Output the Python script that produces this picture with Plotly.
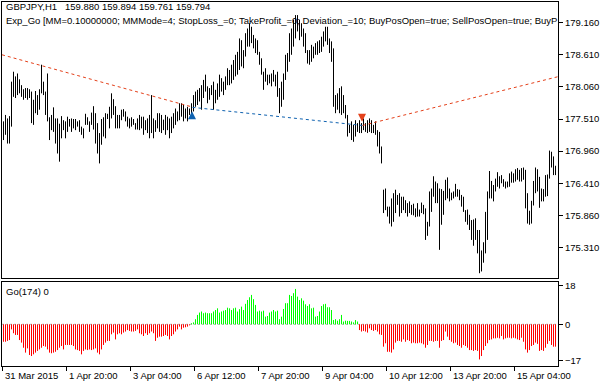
import plotly.graph_objects as go

# ---------------- data ----------------
highs = [
    177.47,177.58,177.52,177.56,178.15,178.32,178.24,178.29,178.19,178.09,
    178.02,178.04,178.04,178.02,177.98,177.84,177.99,177.92,178.02,178.44,
    178.15,177.98,178.29,177.54,177.58,177.71,177.52,177.52,177.43,177.56,
    177.49,177.47,177.55,177.51,177.52,177.51,177.51,177.47,177.49,177.38,
    177.35,177.60,177.54,177.47,177.62,177.73,177.61,177.44,177.27,177.51,
    177.54,177.61,177.60,177.72,177.95,177.85,177.73,177.58,177.58,177.67,
    177.68,177.64,177.55,177.52,177.54,177.51,177.44,177.52,
    177.58,177.55,177.55,177.49,177.52,177.58,177.92,177.52,177.49,177.61,
    177.61,177.58,177.50,177.58,177.55,177.52,177.55,177.61,177.69,177.64,
    177.78,177.78,177.75,177.69,177.72,177.69,177.78,177.92,177.98,178.01,
    178.04,178.09,178.18,178.27,178.07,178.04,178.09,178.15,178.01,178.12,
    178.27,178.21,178.15,178.24,178.38,178.35,178.44,178.52,178.61,178.66,
    178.89,178.86,178.69,178.98,179.06,179.15,179.09,178.95,178.89,178.86,
    178.66,178.55,178.32,178.38,178.27,178.27,178.29,178.35,178.27,
    178.32,178.04,178.15,178.29,178.61,178.64,178.98,179.06,179.21,179.29,
    179.29,179.21,179.15,179.06,178.98,178.69,178.69,178.78,178.75,178.81,
    178.84,178.86,178.92,179.01,179.09,179.09,178.89,178.84,178.72,177.92,
    177.95,178.04,178.07,177.92,177.75,177.58,177.41,177.47,177.41,177.49,
    177.44,177.49,177.44,177.52,177.44,177.49,177.52,177.49,177.41,177.47,
    177.32,177.29,177.04,176.30,176.32,176.01,176.01,176.15,176.24,176.30,
    176.21,176.24,176.18,176.18,176.12,176.07,176.10,176.04,176.06,
    175.98,176.07,175.96,176.08,176.04,175.98,175.75,176.27,176.32,176.53,
    176.44,176.41,176.32,176.31,176.28,176.47,176.51,176.32,176.25,176.27,
    176.40,176.31,176.30,176.21,176.18,175.95,175.96,175.87,175.78,175.79,
    175.81,175.61,175.61,175.26,175.40,175.92,176.27,176.62,176.45,176.38,
    176.49,176.60,176.53,176.55,176.48,176.44,176.44,176.58,176.61,176.58,
    176.65,176.67,176.64,176.67,176.68,176.64,176.24,175.94,176.11,176.45,
    176.68,176.65,176.52,176.32,176.31,176.55,176.56,176.97,176.95,176.87,176.71,
]
lows = [
    177.15,177.24,177.09,177.09,177.38,177.89,177.87,177.92,177.95,177.89,
    177.84,177.87,177.84,177.87,177.44,177.41,177.61,177.58,177.67,177.95,
    177.92,177.58,177.47,177.15,177.32,177.29,177.09,176.92,176.78,177.18,
    177.32,177.18,177.29,177.38,177.29,177.35,177.32,177.38,177.29,177.24,
    177.18,177.41,177.41,177.29,177.41,177.33,177.09,176.92,176.75,177.07,
    177.21,177.18,177.51,177.35,177.52,177.58,177.35,177.35,177.35,177.49,
    177.55,177.47,177.38,177.35,177.38,177.41,177.33,177.33,
    177.32,177.35,177.24,177.32,177.27,177.18,177.27,177.18,177.29,177.35,
    177.29,177.27,177.32,177.24,177.32,177.18,177.27,177.35,177.41,177.47,
    177.49,177.55,177.47,177.52,177.47,177.58,177.61,177.64,177.72,177.75,
    177.81,177.67,177.87,177.98,177.78,177.84,177.92,177.67,177.78,177.84,
    177.89,177.98,177.92,178.01,178.09,178.09,178.12,178.18,178.24,178.27,
    178.35,178.41,178.38,178.58,178.75,178.75,178.81,178.72,178.64,178.61,
    178.44,178.27,178.01,178.15,178.09,178.12,178.07,178.15,178.07,
    177.89,177.61,177.72,177.84,178.18,178.32,178.49,178.61,178.75,178.89,
    179.01,178.86,178.92,178.75,178.64,178.46,178.44,178.49,178.55,178.61,
    178.61,178.64,178.66,178.75,178.84,178.78,178.64,178.49,177.72,177.61,
    177.67,177.61,177.58,177.61,177.52,177.21,177.27,177.15,177.12,177.21,
    177.29,177.27,177.27,177.32,177.29,177.27,177.29,177.27,177.27,177.24,
    177.04,176.92,176.75,175.90,175.95,175.84,175.72,175.67,175.75,175.90,
    176.04,175.84,175.90,175.95,175.90,175.84,175.90,175.87,175.86,
    175.83,175.84,175.84,175.90,175.88,175.44,175.51,175.67,175.92,176.18,
    176.07,176.07,175.27,175.70,175.87,176.12,176.15,176.10,176.12,176.15,
    176.18,176.18,176.12,176.01,175.92,175.75,175.70,175.61,175.44,175.34,
    175.44,175.21,174.87,174.90,175.05,175.21,175.44,176.15,176.15,176.10,
    176.27,176.35,176.32,176.41,176.35,176.32,176.34,176.35,176.42,176.42,
    176.44,176.47,176.44,176.44,176.47,175.98,175.72,175.70,175.72,176.03,
    176.24,176.27,175.99,176.10,176.10,176.18,176.19,176.49,176.68,176.55,176.55,
]
go_values = [
    -8.2,-8.2,-7.8,-7.4,-2.4,-4.2,-5.0,-5.0,-7.4,-8.6,
    -11.0,-13.3,-11.3,-14.4,-14.9,-14.1,-13.3,-12.5,-11.8,-11.0,
    -10.2,-10.5,-11.8,-13.3,-13.6,-13.3,-12.9,-12.1,-11.0,-10.2,
    -11.8,-9.7,-9.7,-9.7,-9.7,-10.2,-11.8,-12.1,-12.5,-14.1,
    -12.5,-11.8,-12.1,-11.8,-12.1,-11.8,-11.3,-13.3,-14.1,-11.8,
    -9.7,-8.6,-7.8,-7.8,-4.7,-3.9,-7.1,-4.7,-4.2,-4.7,
    -3.9,-3.4,-2.7,-3.1,-3.4,-3.4,-3.1,-2.4,-4.2,-4.7,
    -5.5,-4.2,-5.0,-4.2,-3.4,-4.2,-7.8,-6.3,-5.8,-5.8,
    -5.5,-5.0,-5.5,-7.1,-5.5,-4.7,-3.4,-2.4,-1.1,-2.4,
    -1.6,-1.4,-1.1,-0.5,
    0.5,0.9,2.4,4.4,5.5,6.0,5.2,5.5,5.2,5.2,
    5.2,6.0,6.7,7.5,5.5,6.0,6.4,6.7,7.8,7.5,
    6.7,7.5,7.8,6.0,7.1,8.3,6.7,9.6,11.4,12.7,
    13.8,11.8,9.1,6.0,6.4,6.0,6.4,3.6,3.9,5.5,
    6.0,6.7,6.0,6.4,2.4,3.6,7.2,9.9,9.9,13.8,
    13.3,14.6,16.6,13.0,11.4,12.2,11.1,9.4,8.6,9.4,
    7.5,7.8,3.6,3.9,6.0,8.6,9.4,9.6,8.0,8.0,
    6.7,2.0,2.4,1.7,2.4,4.4,1.3,1.7,1.6,1.6,
    1.3,0.9,2.0,1.3,
    -2.7,-3.4,-3.1,-3.4,-3.9,-1.9,-2.7,-3.1,-2.7,-3.4,
    -4.7,-5.0,-10.5,-8.9,-12.9,-12.9,-13.3,-11.8,-8.6,-7.8,
    -7.8,-8.2,-7.1,-8.2,-7.4,-7.8,-8.9,-8.6,-8.9,-8.9,
    -8.6,-8.9,-9.4,-11.0,-9.7,-7.8,-7.8,-8.2,-7.8,-7.8,
    -11.0,-7.8,-7.4,-3.4,-5.8,-7.4,-8.2,-8.9,-8.6,-9.7,
    -10.2,-11.0,-9.7,-10.2,-11.0,-12.1,-12.1,-12.5,-12.1,-12.5,
    -16.5,-14.9,-12.1,-10.2,-8.9,-7.4,-7.1,-6.6,-6.6,-6.3,
    -6.6,-5.5,-7.1,-6.6,-6.3,-6.3,-6.6,-6.3,-6.6,-7.1,
    -7.4,-6.3,-8.2,-11.8,-13.3,-12.1,-10.2,-9.7,-8.6,-9.2,
    -12.5,-12.1,-12.5,-11.0,-9.2,-7.8,-9.7,-10.5,-10.5,
]
tick_index = [0, 32, 64, 96, 128, 160, 192, 224, 256]
tick_labels = ["31 Mar 2015", "1 Apr 20:00", "3 Apr 04:00", "6 Apr 12:00", "7 Apr 20:00",
               "9 Apr 04:00", "10 Apr 12:00", "13 Apr 20:00", "15 Apr 04:00"]
price_ticks = [179.16, 178.61, 178.06, 177.51, 176.96, 176.41, 175.86, 175.31]
go_ticks = [18, 0, -17]

# trade history lines (bar index, price)
sell1_x, sell1_y = [-0.75, 94.0], [178.61, 177.72]
buy_x, buy_y = [94.5, 179.5], [177.71, 177.40]
sell2_x, sell2_y = [179.5, 277.25], [177.40, 178.235]
buy_arrow_x, buy_arrow_y = [94.25], [177.645]
sell_arrow_x, sell_arrow_y = [179.25], [177.465]

NB = "\u00a0"
header1 = "GBPJPY,H1" + NB * 3 + NB.join(["159.880", "159.894", "159.761", "159.794"])
header2 = ("Exp_Go [MM=0.10000000; MMMode=4; StopLoss_=0; TakeProfit_=0; Deviation_=10; "
           "BuyPosOpen=true; SellPosOpen=true; BuyP")
sub_label = "Go(174) 0"

# ---------------- figure ----------------
FONT = "Liberation Sans"
FS = 9.5
idx = list(range(len(highs)))


def segments(xs, y0s, y1s):
    sx, sy = [], []
    for x, a, b in zip(xs, y0s, y1s):
        sx += [x, x, None]
        sy += [a, b, None]
    return sx, sy


fig = go.Figure()
# price bars: vertical high-low lines
px_, py_ = segments(idx, lows, highs)
fig.add_trace(go.Scatter(x=px_, y=py_, mode="lines", line=dict(color="black", width=1),
                         hoverinfo="skip", xaxis="x", yaxis="y"))
dash = "3px,3px"
fig.add_trace(go.Scatter(x=sell1_x, y=sell1_y, mode="lines",
                         line=dict(color="#E4411B", width=1, dash=dash), xaxis="x", yaxis="y"))
fig.add_trace(go.Scatter(x=buy_x, y=buy_y, mode="lines",
                         line=dict(color="#0F62B0", width=1, dash=dash), xaxis="x", yaxis="y"))
fig.add_trace(go.Scatter(x=sell2_x, y=sell2_y, mode="lines",
                         line=dict(color="#E4411B", width=1, dash=dash), xaxis="x", yaxis="y"))
fig.add_trace(go.Scatter(x=buy_arrow_x, y=buy_arrow_y, mode="markers",
                         marker=dict(symbol="arrow-up", size=8, color="#0F62B0"), xaxis="x", yaxis="y"))
fig.add_trace(go.Scatter(x=sell_arrow_x, y=sell_arrow_y, mode="markers",
                         marker=dict(symbol="arrow-down", size=8, color="#E4411B"), xaxis="x", yaxis="y"))

# histogram: positive (green) and negative (red) columns
pos = [(i, v) for i, v in zip(idx, go_values) if v > 0]
neg = [(i, v) for i, v in zip(idx, go_values) if v <= 0]
gx, gy = segments([p[0] for p in pos], [0] * len(pos), [p[1] for p in pos])
rx, ry = segments([n[0] for n in neg], [0] * len(neg), [n[1] for n in neg])
fig.add_trace(go.Scatter(x=gx, y=gy, mode="lines", line=dict(color="#00FF00", width=1),
                         hoverinfo="skip", xaxis="x2", yaxis="y2"))
fig.add_trace(go.Scatter(x=rx, y=ry, mode="lines", line=dict(color="#FF0000", width=1),
                         hoverinfo="skip", xaxis="x2", yaxis="y2"))

W, H = 610, 387
ml, mr, mt, mb = 2, 52, 2, 21
ph = H - mt - mb  # 364
main_dom = [(366 - 278) / ph, 1.0]
sub_dom = [0.0, (366 - 282) / ph]
xr = [-0.75, 277.25]

axis_common = dict(showline=True, mirror=True, linecolor="black", linewidth=1,
                   showgrid=False, zeroline=False, fixedrange=True, automargin=False)
tf = dict(family=FONT, size=FS, color="black")

fig.update_layout(
    width=W, height=H, autosize=False,
    margin=dict(l=ml, r=mr, t=mt, b=mb, pad=0, autoexpand=False),
    paper_bgcolor="white", plot_bgcolor="white",
    showlegend=False,
    font=tf,
    xaxis=dict(domain=[0, 1], range=xr, anchor="y", showticklabels=False, ticks="", **axis_common),
    yaxis=dict(domain=main_dom, range=[174.788, 179.514], side="right", anchor="x",
               tickvals=price_ticks, tickformat=".3f", ticks="outside", ticklen=4,
               tickcolor="black", tickfont=tf, **axis_common),
    xaxis2=dict(domain=[0, 1], range=xr, anchor="y2",
                tickvals=[t - 0.5 for t in tick_index], showticklabels=False,
                ticks="outside", ticklen=4, tickcolor="black", **axis_common),
    yaxis2=dict(domain=sub_dom, range=[-19.58, 19.86], side="right", anchor="x2",
                tickvals=go_ticks, ticks="outside", ticklen=4, tickcolor="black",
                tickfont=tf, **axis_common),
)

fig.add_shape(type="line", xref="x2", yref="y2", x0=xr[0], x1=xr[1], y0=0, y1=0,
              line=dict(color="#B0B0B0", width=1, dash="2px,2px"), layer="below")


def px_to_paper_x(p):
    return (p - ml) / (W - ml - mr)


def px_to_paper_y(q):
    return (H - mb - q) / ph


anns = [
    dict(text=header1, x=px_to_paper_x(5), y=px_to_paper_y(7)),
    dict(text=header2, x=px_to_paper_x(5), y=px_to_paper_y(20)),
    dict(text=sub_label, x=px_to_paper_x(5), y=px_to_paper_y(291)),
]
for a in anns:
    fig.add_annotation(xref="paper", yref="paper", xanchor="left", yanchor="middle",
                       showarrow=False, font=tf, borderpad=0, **a)
for t, lab in zip(tick_index, tick_labels):
    fig.add_annotation(xref="x2", yref="paper", x=t - 0.5, y=px_to_paper_y(376),
                       text=lab, xanchor="left", yanchor="middle", xshift=1, showarrow=False,
                       font=tf, borderpad=0)

fig.write_html("out.html", config={"displayModeBar": False},
               post_script="document.body.style.margin='0px';document.body.style.padding='0px';"
                           "document.body.style.overflow='hidden';")
